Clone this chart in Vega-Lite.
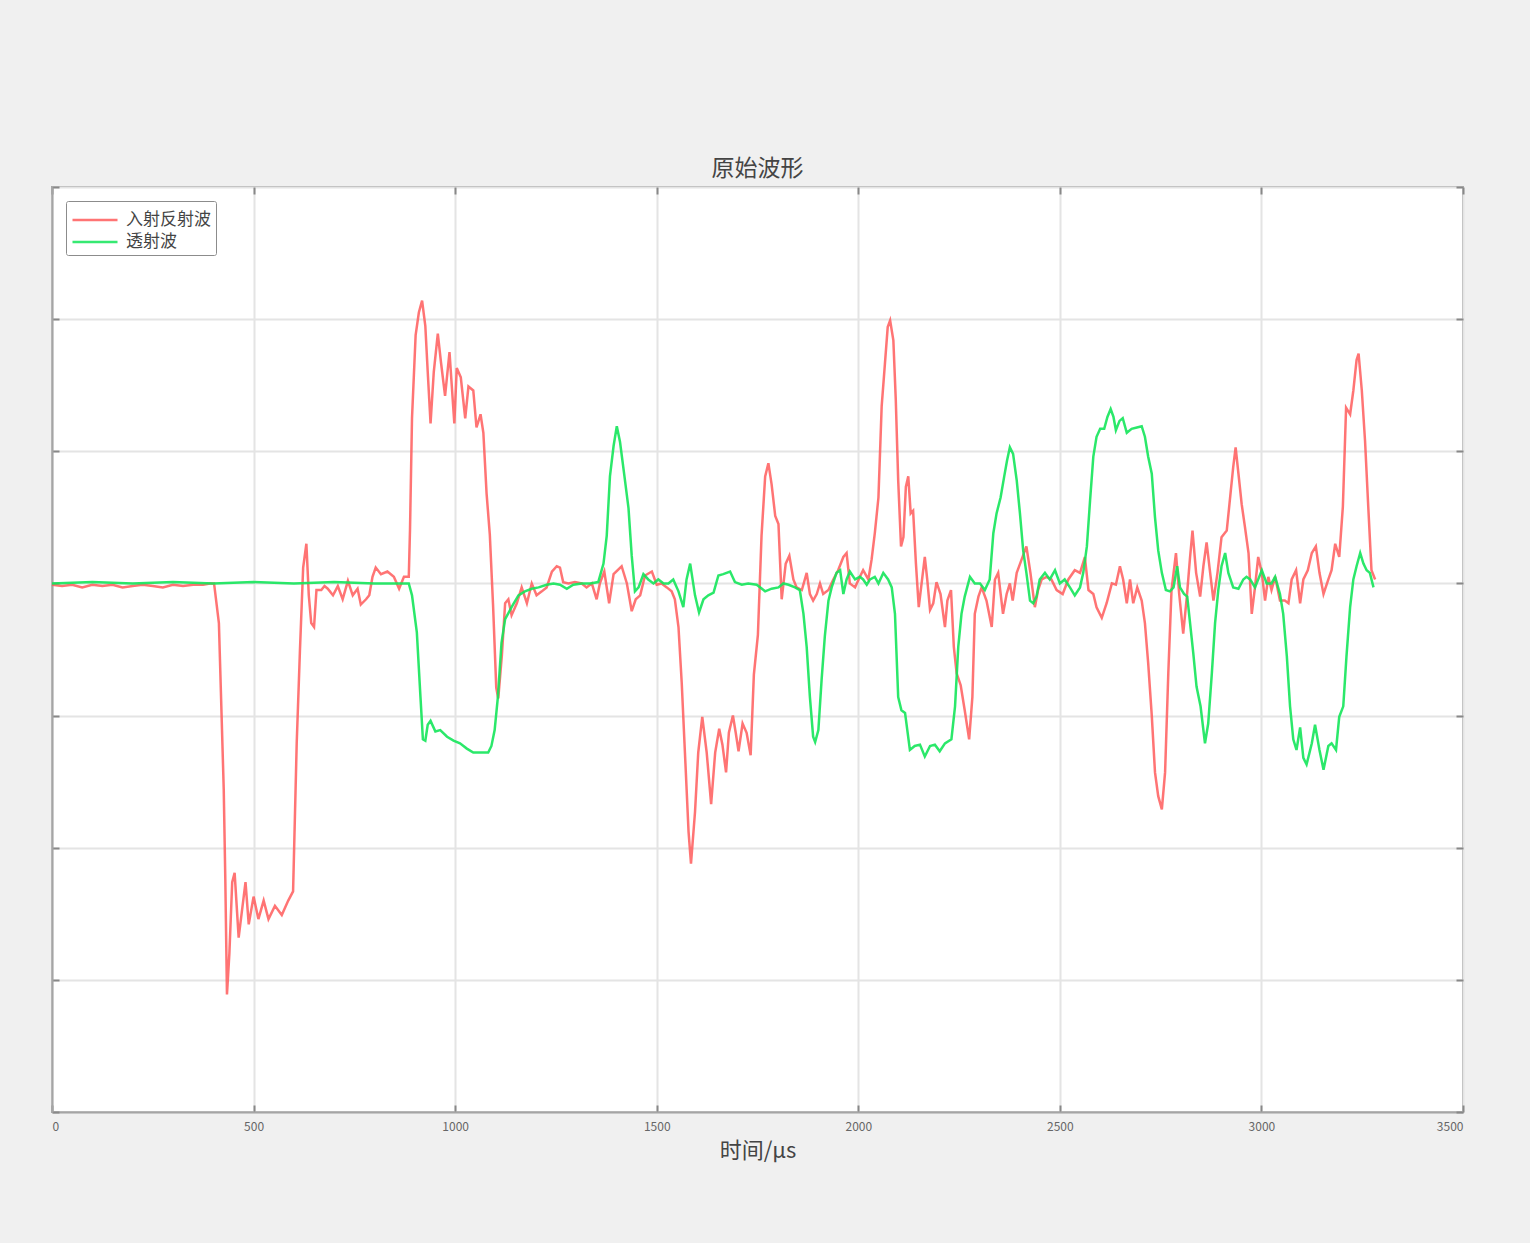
{
  "$schema": "https://vega.github.io/schema/vega-lite/v6.json",
  "width": 1411,
  "height": 925,
  "autosize": {"type": "none"},
  "padding": {"left": 52, "top": 187, "right": 67, "bottom": 131},
  "background": "#f0f0f0",
  "title": {"text": "原始波形", "fontSize": 23, "fontWeight": "normal", "color": "#444", "font": "Noto Sans CJK SC", "offset": 5},
  "config": {
    "font": "Noto Sans CJK SC",
    "view": {"fill": "white", "stroke": "#a5a5a5", "strokeWidth": 2},
    "legend": {"orient": "top-left", "offset": 14, "strokeColor": "#8c8c8c", "fillColor": "white", "padding": 5, "cornerRadius": 2, "symbolType": "M-1,0H2.6", "symbolStrokeWidth": 2.5, "symbolSize": 625, "labelFontSize": 17, "labelColor": "#444", "labelOffset": 27, "rowPadding": -1, "labelFont": "Noto Sans CJK SC"}
  },
  "datasets": {
    "red": [
      {"t":0,"v":-0.01},{"t":25,"v":-0.02},{"t":50,"v":-0.01},{"t":75,"v":-0.03},{"t":100,"v":-0.01},{"t":125,"v":-0.02},{"t":150,"v":-0.01},{"t":175,"v":-0.03},{"t":200,"v":-0.02},{"t":225,"v":-0.01},{"t":250,"v":-0.02},{"t":275,"v":-0.03},{"t":300,"v":-0.01},{"t":325,"v":-0.02},{"t":350,"v":-0.01},{"t":375,"v":-0.01},{"t":392,"v":0},{"t":402,"v":0},
      {"t":414,"v":-0.3},{"t":426,"v":-1.56},{"t":430,"v":-2.26},{"t":434,"v":-3.11},{"t":440,"v":-2.8},{"t":447,"v":-2.26},{"t":453,"v":-2.19},{"t":463,"v":-2.68},{"t":480,"v":-2.26},{"t":488,"v":-2.58},{"t":500,"v":-2.37},{"t":512,"v":-2.54},{"t":525,"v":-2.4},{"t":537,"v":-2.54},{"t":553,"v":-2.44},{"t":570,"v":-2.51},{"t":586,"v":-2.4},{"t":598,"v":-2.33},{"t":607,"v":-1.21},{"t":615,"v":-0.51},{"t":623,"v":0.12},{"t":631,"v":0.3},{"t":637,"v":-0.09},{"t":643,"v":-0.3},{"t":650,"v":-0.33},{"t":656,"v":-0.05},{"t":668,"v":-0.05},{"t":676,"v":-0.02},{"t":684,"v":-0.04},{"t":697,"v":-0.09},{"t":709,"v":-0.02},{"t":721,"v":-0.12},{"t":734,"v":0.02},{"t":746,"v":-0.09},{"t":758,"v":-0.04},{"t":766,"v":-0.16},{"t":779,"v":-0.12},{"t":787,"v":-0.09},{"t":795,"v":0.05},{"t":803,"v":0.12},{"t":816,"v":0.07},{"t":832,"v":0.09},{"t":848,"v":0.05},{"t":861,"v":-0.04},{"t":873,"v":0.05},{"t":885,"v":0.05},
      {"t":888,"v":0.4},{"t":893,"v":1.25},{"t":902,"v":1.88},{"t":910,"v":2.05},{"t":918,"v":2.14},{"t":926,"v":1.95},{"t":932,"v":1.6},{"t":939,"v":1.21},{"t":947,"v":1.6},{"t":957,"v":1.89},{"t":965,"v":1.67},{"t":975,"v":1.42},{"t":986,"v":1.75},{"t":998,"v":1.21},{"t":1004,"v":1.63},{"t":1014,"v":1.56},{"t":1025,"v":1.25},{"t":1033,"v":1.49},{"t":1045,"v":1.46},{"t":1053,"v":1.18},{"t":1063,"v":1.28},{"t":1070,"v":1.14},{"t":1078,"v":0.68},{"t":1086,"v":0.37},{"t":1094,"v":-0.16},{"t":1102,"v":-0.79},{"t":1107,"v":-0.87},{"t":1116,"v":-0.54},{"t":1124,"v":-0.15},{"t":1132,"v":-0.12},{"t":1140,"v":-0.24},{"t":1153,"v":-0.15},{"t":1165,"v":-0.03},{"t":1178,"v":-0.15},{"t":1190,"v":0},{"t":1202,"v":-0.09},{"t":1215,"v":-0.06},{"t":1227,"v":-0.03},{"t":1240,"v":0.09},{"t":1252,"v":0.13},{"t":1260,"v":0.12},{"t":1268,"v":0.01},{"t":1281,"v":0},{"t":1297,"v":0.01},{"t":1314,"v":0},{"t":1326,"v":-0.03},{"t":1339,"v":0},{"t":1351,"v":-0.12},{"t":1359,"v":0},{"t":1370,"v":0.09},{"t":1382,"v":-0.15},{"t":1393,"v":0.07},{"t":1413,"v":0.13},{"t":1426,"v":0},{"t":1438,"v":-0.21},{"t":1448,"v":-0.12},{"t":1459,"v":-0.09},{"t":1471,"v":0.06},{"t":1488,"v":0.09},{"t":1500,"v":-0.01},{"t":1512,"v":0},{"t":1525,"v":-0.03},{"t":1537,"v":-0.06},{"t":1545,"v":-0.12},
      {"t":1554,"v":-0.33},{"t":1562,"v":-0.75},{"t":1570,"v":-1.28},{"t":1579,"v":-1.88},{"t":1585,"v":-2.12},{"t":1595,"v":-1.73},{"t":1603,"v":-1.28},{"t":1613,"v":-1.01},{"t":1624,"v":-1.28},{"t":1635,"v":-1.67},{"t":1645,"v":-1.28},{"t":1655,"v":-1.1},{"t":1663,"v":-1.22},{"t":1672,"v":-1.43},{"t":1679,"v":-1.13},{"t":1689,"v":-1.0},{"t":1696,"v":-1.13},{"t":1703,"v":-1.27},{"t":1713,"v":-1.06},{"t":1723,"v":-1.13},{"t":1733,"v":-1.3},{"t":1741,"v":-0.69},{"t":1751,"v":-0.39},{"t":1760,"v":0.36},{"t":1769,"v":0.81},{"t":1777,"v":0.91},{"t":1785,"v":0.75},{"t":1794,"v":0.51},{"t":1802,"v":0.45},{"t":1810,"v":-0.12},{"t":1820,"v":0.15},{"t":1829,"v":0.21},{"t":1839,"v":0.03},{"t":1847,"v":-0.03},{"t":1860,"v":-0.05},{"t":1872,"v":0.08},{"t":1880,"v":-0.08},{"t":1888,"v":-0.13},{"t":1897,"v":-0.08},{"t":1905,"v":0},{"t":1913,"v":-0.08},{"t":1926,"v":-0.05},{"t":1938,"v":0.03},{"t":1950,"v":0.1},{"t":1963,"v":0.2},{"t":1971,"v":0.23},{"t":1979,"v":0},{"t":1992,"v":-0.03},{"t":2004,"v":0.05},{"t":2012,"v":0.1},{"t":2025,"v":0.03},{"t":2033,"v":0.18},
      {"t":2041,"v":0.38},{"t":2050,"v":0.65},{"t":2058,"v":1.34},{"t":2066,"v":1.66},{"t":2073,"v":1.94},{"t":2079,"v":1.99},{"t":2087,"v":1.84},{"t":2093,"v":1.39},{"t":2099,"v":0.78},{"t":2106,"v":0.28},{"t":2112,"v":0.35},{"t":2118,"v":0.73},{"t":2124,"v":0.81},{"t":2130,"v":0.53},{"t":2136,"v":0.55},{"t":2143,"v":0.15},{"t":2150,"v":-0.18},{"t":2159,"v":0.05},{"t":2165,"v":0.2},{"t":2171,"v":0.03},{"t":2178,"v":-0.2},{"t":2186,"v":-0.15},{"t":2194,"v":0.01},{"t":2204,"v":-0.08},{"t":2215,"v":-0.33},{"t":2221,"v":-0.13},{"t":2230,"v":-0.05},{"t":2237,"v":-0.48},{"t":2244,"v":-0.68},{"t":2254,"v":-0.77},{"t":2264,"v":-0.96},{"t":2275,"v":-1.18},{"t":2283,"v":-0.86},{"t":2289,"v":-0.23},{"t":2298,"v":-0.1},{"t":2306,"v":-0.03},{"t":2318,"v":-0.13},{"t":2331,"v":-0.33},{"t":2339,"v":0.03},{"t":2347,"v":0.08},{"t":2359,"v":-0.23},{"t":2368,"v":-0.08},{"t":2376,"v":0},{"t":2383,"v":-0.13},{"t":2393,"v":0.08},{"t":2405,"v":0.18},{"t":2417,"v":0.28},{"t":2427,"v":0.08},{"t":2438,"v":-0.18},{"t":2446,"v":-0.05},{"t":2455,"v":0.03},{"t":2467,"v":0.05},{"t":2479,"v":0.03},{"t":2492,"v":-0.05},{"t":2507,"v":-0.08},{"t":2521,"v":0.03},{"t":2537,"v":0.1},
      {"t":2550,"v":0.08},{"t":2562,"v":0.2},{"t":2571,"v":-0.05},{"t":2583,"v":-0.08},{"t":2591,"v":-0.18},{"t":2604,"v":-0.26},{"t":2616,"v":-0.15},{"t":2629,"v":0},{"t":2639,"v":-0.01},{"t":2649,"v":0.13},{"t":2657,"v":0.03},{"t":2666,"v":-0.15},{"t":2674,"v":0.03},{"t":2682,"v":-0.15},{"t":2692,"v":-0.03},{"t":2703,"v":-0.13},{"t":2711,"v":-0.3},{"t":2719,"v":-0.6},{"t":2728,"v":-1.0},{"t":2736,"v":-1.43},{"t":2744,"v":-1.61},{"t":2753,"v":-1.71},{"t":2761,"v":-1.43},{"t":2769,"v":-0.68},{"t":2777,"v":-0.05},{"t":2788,"v":0.23},{"t":2796,"v":-0.08},{"t":2806,"v":-0.38},{"t":2815,"v":-0.1},{"t":2823,"v":0.2},{"t":2829,"v":0.4},{"t":2838,"v":0.08},{"t":2848,"v":-0.1},{"t":2856,"v":0.13},{"t":2864,"v":0.31},{"t":2872,"v":0.1},{"t":2881,"v":-0.13},{"t":2891,"v":0.08},{"t":2901,"v":0.35},{"t":2914,"v":0.4},{"t":2924,"v":0.7},{"t":2930,"v":0.88},{"t":2936,"v":1.03},{"t":2943,"v":0.83},{"t":2951,"v":0.6},{"t":2959,"v":0.43},{"t":2968,"v":0.23},{"t":2976,"v":-0.23},{"t":2984,"v":-0.03},{"t":2992,"v":0.2},{"t":3001,"v":0.08},{"t":3009,"v":-0.13},{"t":3017,"v":0.05},{"t":3025,"v":-0.05},{"t":3034,"v":0.05},{"t":3046,"v":-0.13},{"t":3058,"v":-0.13},{"t":3067,"v":-0.15},{"t":3075,"v":0.03},{"t":3086,"v":0.1},{"t":3096,"v":-0.15},{"t":3104,"v":0.03},{"t":3115,"v":0.1},{"t":3125,"v":0.23},{"t":3135,"v":0.28},{"t":3144,"v":0.08},{"t":3154,"v":-0.08},{"t":3166,"v":0.03},{"t":3174,"v":0.1},{"t":3183,"v":0.3},{"t":3193,"v":0.2},{"t":3202,"v":0.58},{"t":3210,"v":1.33},{"t":3220,"v":1.28},{"t":3228,"v":1.46},{"t":3236,"v":1.69},{"t":3241,"v":1.74},{"t":3249,"v":1.46},{"t":3257,"v":1.08},{"t":3265,"v":0.58},{"t":3273,"v":0.1},{"t":3282,"v":0.03}
    ],
    "green": [
      {"t":0,"v":0},{"t":100,"v":0.01},{"t":200,"v":0},{"t":300,"v":0.01},{"t":400,"v":0},{"t":500,"v":0.01},{"t":600,"v":0},{"t":700,"v":0.01},{"t":800,"v":0},{"t":885,"v":0},
      {"t":893,"v":-0.09},{"t":905,"v":-0.37},{"t":914,"v":-0.86},{"t":920,"v":-1.18},{"t":926,"v":-1.19},{"t":932,"v":-1.07},{"t":939,"v":-1.04},{"t":951,"v":-1.12},{"t":963,"v":-1.11},{"t":980,"v":-1.16},{"t":996,"v":-1.19},{"t":1012,"v":-1.21},{"t":1029,"v":-1.25},{"t":1045,"v":-1.28},{"t":1061,"v":-1.28},{"t":1082,"v":-1.28},{"t":1090,"v":-1.23},{"t":1098,"v":-1.11},{"t":1106,"v":-0.86},{"t":1115,"v":-0.45},{"t":1124,"v":-0.27},{"t":1140,"v":-0.18},{"t":1157,"v":-0.09},{"t":1173,"v":-0.06},{"t":1190,"v":-0.04},{"t":1207,"v":-0.03},{"t":1227,"v":-0.01},{"t":1244,"v":0},{"t":1260,"v":-0.01},{"t":1277,"v":-0.04},{"t":1293,"v":-0.01},{"t":1314,"v":0},{"t":1335,"v":0},{"t":1355,"v":0.01},
      {"t":1368,"v":0.15},{"t":1376,"v":0.36},{"t":1384,"v":0.81},{"t":1393,"v":1.04},{"t":1401,"v":1.19},{"t":1409,"v":1.07},{"t":1420,"v":0.81},{"t":1430,"v":0.57},{"t":1438,"v":0.21},{"t":1446,"v":-0.06},{"t":1455,"v":-0.03},{"t":1467,"v":0.07},{"t":1479,"v":0.03},{"t":1492,"v":0},{"t":1504,"v":0.03},{"t":1517,"v":0},{"t":1529,"v":0},{"t":1541,"v":0.03},{"t":1554,"v":-0.06},{"t":1566,"v":-0.18},{"t":1574,"v":0.03},{"t":1583,"v":0.15},{"t":1595,"v":-0.09},{"t":1605,"v":-0.22},{"t":1616,"v":-0.12},{"t":1628,"v":-0.09},{"t":1641,"v":-0.07},{"t":1653,"v":0.06},{"t":1665,"v":0.07},{"t":1682,"v":0.09},{"t":1694,"v":0.01},{"t":1711,"v":-0.01},{"t":1727,"v":0},{"t":1748,"v":-0.01},{"t":1769,"v":-0.06},{"t":1785,"v":-0.04},{"t":1802,"v":-0.03},{"t":1814,"v":0},{"t":1827,"v":-0.01},{"t":1843,"v":-0.03},{"t":1855,"v":-0.05},
      {"t":1864,"v":-0.23},{"t":1872,"v":-0.48},{"t":1880,"v":-0.86},{"t":1888,"v":-1.16},{"t":1893,"v":-1.2},{"t":1901,"v":-1.11},{"t":1909,"v":-0.73},{"t":1917,"v":-0.4},{"t":1926,"v":-0.13},{"t":1934,"v":-0.03},{"t":1946,"v":0.08},{"t":1955,"v":0.1},{"t":1963,"v":-0.08},{"t":1971,"v":0.03},{"t":1979,"v":0.09},{"t":1992,"v":0.03},{"t":2004,"v":0.05},{"t":2012,"v":0.03},{"t":2021,"v":-0.01},{"t":2029,"v":0.03},{"t":2041,"v":0.05},{"t":2050,"v":0},{"t":2062,"v":0.08},{"t":2074,"v":0.03},{"t":2083,"v":-0.03},{"t":2091,"v":-0.23},{"t":2099,"v":-0.86},{"t":2107,"v":-0.96},{"t":2116,"v":-0.98},{"t":2128,"v":-1.26},{"t":2140,"v":-1.23},{"t":2153,"v":-1.22},{"t":2165,"v":-1.31},{"t":2178,"v":-1.23},{"t":2190,"v":-1.22},{"t":2202,"v":-1.27},{"t":2215,"v":-1.21},{"t":2231,"v":-1.18},{"t":2240,"v":-0.93},{"t":2248,"v":-0.48},{"t":2256,"v":-0.23},{"t":2264,"v":-0.1},{"t":2277,"v":0.05},{"t":2289,"v":0},{"t":2302,"v":0},{"t":2314,"v":-0.05},{"t":2326,"v":0.03},
      {"t":2335,"v":0.38},{"t":2343,"v":0.53},{"t":2353,"v":0.65},{"t":2362,"v":0.81},{"t":2369,"v":0.93},{"t":2376,"v":1.03},{"t":2384,"v":0.98},{"t":2393,"v":0.78},{"t":2401,"v":0.53},{"t":2409,"v":0.25},{"t":2417,"v":0.08},{"t":2426,"v":-0.13},{"t":2434,"v":-0.15},{"t":2442,"v":-0.1},{"t":2450,"v":0.03},{"t":2463,"v":0.08},{"t":2475,"v":0.03},{"t":2488,"v":0.1},{"t":2500,"v":0},{"t":2512,"v":0.03},{"t":2525,"v":-0.03},{"t":2537,"v":-0.09},{"t":2550,"v":-0.03},{"t":2558,"v":0.08},{"t":2567,"v":0.28},{"t":2575,"v":0.63},{"t":2583,"v":0.96},{"t":2591,"v":1.11},{"t":2600,"v":1.17},{"t":2610,"v":1.17},{"t":2618,"v":1.26},{"t":2626,"v":1.32},{"t":2633,"v":1.26},{"t":2639,"v":1.16},{"t":2648,"v":1.23},{"t":2656,"v":1.25},{"t":2666,"v":1.14},{"t":2678,"v":1.17},{"t":2691,"v":1.18},{"t":2703,"v":1.19},{"t":2711,"v":1.11},{"t":2719,"v":0.96},{"t":2728,"v":0.83},{"t":2736,"v":0.5},{"t":2744,"v":0.25},{"t":2753,"v":0.08},{"t":2763,"v":-0.05},{"t":2773,"v":-0.06},{"t":2782,"v":-0.03},{"t":2791,"v":0.13},{"t":2798,"v":-0.03},{"t":2808,"v":-0.08},{"t":2816,"v":-0.1},
      {"t":2823,"v":-0.3},{"t":2831,"v":-0.53},{"t":2839,"v":-0.78},{"t":2849,"v":-0.93},{"t":2860,"v":-1.21},{"t":2868,"v":-1.06},{"t":2877,"v":-0.68},{"t":2885,"v":-0.3},{"t":2893,"v":-0.05},{"t":2901,"v":0.13},{"t":2910,"v":0.23},{"t":2918,"v":0.08},{"t":2930,"v":-0.03},{"t":2943,"v":-0.04},{"t":2955,"v":0.03},{"t":2963,"v":0.05},{"t":2972,"v":0.03},{"t":2984,"v":-0.03},{"t":3001,"v":0.1},{"t":3013,"v":0},{"t":3025,"v":0},{"t":3034,"v":0.05},{"t":3046,"v":-0.08},{"t":3054,"v":-0.23},{"t":3063,"v":-0.55},{"t":3071,"v":-0.93},{"t":3079,"v":-1.18},{"t":3087,"v":-1.26},{"t":3096,"v":-1.09},{"t":3104,"v":-1.32},{"t":3112,"v":-1.37},{"t":3125,"v":-1.21},{"t":3133,"v":-1.07},{"t":3144,"v":-1.26},{"t":3154,"v":-1.41},{"t":3166,"v":-1.23},{"t":3174,"v":-1.21},{"t":3185,"v":-1.26},{"t":3193,"v":-1.01},{"t":3203,"v":-0.93},{"t":3211,"v":-0.55},{"t":3220,"v":-0.18},{"t":3228,"v":0.03},{"t":3236,"v":0.13},{"t":3245,"v":0.23},{"t":3253,"v":0.15},{"t":3261,"v":0.1},{"t":3269,"v":0.08},{"t":3278,"v":-0.03}
    ]
  },
  "layer": [
    {
      "data": {"name": "red"},
      "mark": {"type": "line", "strokeWidth": 2.5, "opacity": 0.85},
      "encoding": {
        "x": {"field": "t", "type": "quantitative", "scale": {"domain": [0, 3500], "nice": false, "zero": false},
              "axis": {"orient": "bottom", "values": [0, 500, 1000, 1500, 2000, 2500, 3000, 3500], "format": "d", "grid": true, "gridColor": "#e4e4e4", "gridWidth": 2, "domainColor": "#a5a5a5", "domainWidth": 2, "tickColor": "#888", "tickWidth": 2, "tickSize": -7, "labelPadding": 16, "labelFontSize": 12, "labelColor": "#666", "title": "时间/μs", "titleFontSize": 22, "titleFontWeight": "normal", "titleColor": "#444", "titlePadding": 8}},
        "y": {"field": "v", "type": "quantitative", "scale": {"domain": [-4, 3], "nice": false, "zero": false},
              "axis": {"orient": "left", "values": [-4, -3, -2, -1, 0, 1, 2, 3], "grid": true, "gridColor": "#e4e4e4", "gridWidth": 2, "domainColor": "#a5a5a5", "domainWidth": 2, "tickColor": "#888", "tickWidth": 2, "tickSize": -7, "labels": false, "title": null}},
        "color": {"datum": "入射反射波", "type": "nominal", "scale": {"domain": ["入射反射波", "透射波"], "range": ["#ff5c5c", "#14e65a"]}, "legend": {"title": null}}
      }
    },
    {
      "data": {"name": "green"},
      "mark": {"type": "line", "strokeWidth": 2.5, "opacity": 0.9},
      "encoding": {
        "x": {"field": "t", "type": "quantitative", "axis": null},
        "y": {"field": "v", "type": "quantitative", "axis": null},
        "color": {"datum": "透射波", "type": "nominal"}
      }
    },
    {
      "data": {"name": "green"},
      "mark": {"type": "line", "opacity": 0},
      "encoding": {
        "x": {"field": "t", "type": "quantitative",
              "axis": {"orient": "top", "values": [0, 500, 1000, 1500, 2000, 2500, 3000, 3500], "grid": false, "labels": false, "domain": false, "tickColor": "#888", "tickWidth": 2, "tickSize": -7, "title": null}},
        "y": {"field": "v", "type": "quantitative",
              "axis": {"orient": "right", "values": [-4, -3, -2, -1, 0, 1, 2, 3], "grid": false, "labels": false, "domain": false, "tickColor": "#888", "tickWidth": 2, "tickSize": -7, "title": null}}
      }
    }
  ],
  "resolve": {"axis": {"x": "independent", "y": "independent"}}
}
